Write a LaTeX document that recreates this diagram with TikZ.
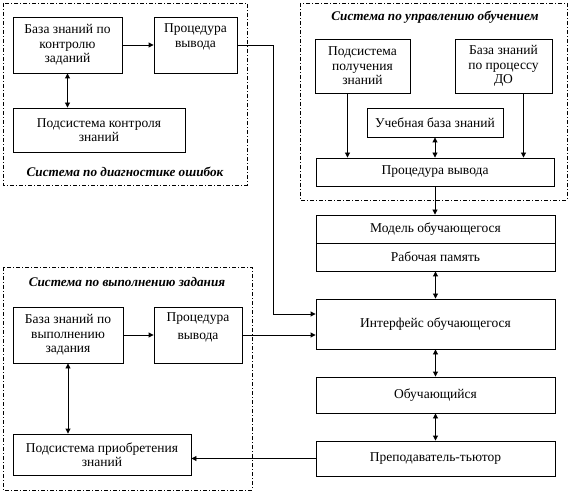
\documentclass[tikz,border=0pt]{standalone}
\usepackage{fontspec}
\setmainfont{Liberation Serif}
\usetikzlibrary{arrows.meta}
\begin{document}
\begin{tikzpicture}[x=1pt,y=-1pt,
  box/.style={draw,line width=0.9pt,inner sep=0pt,align=center,font=\fontsize{13.5}{14.5}\selectfont},
  grp/.style={draw,line width=0.9pt,dash pattern=on 4pt off 2pt on 1pt off 2pt},
  glabel/.style={font=\fontsize{13.2}{15}\selectfont\bfseries\itshape,inner sep=0pt},
  conn/.style={line width=0.9pt},
  arr/.style={conn,-{Triangle[length=5pt,width=5pt]}},
  darr/.style={conn,{Triangle[length=5pt,width=5pt]}-{Triangle[length=5pt,width=5pt]}}]
\useasboundingbox[fill=white] (0,0) rectangle (573,494);
% groups
\draw[grp] (3,3) rectangle (247,185);
\draw[grp] (300,3) rectangle (567,200);
\draw[grp] (3,267) rectangle (252,490);
\node[glabel] (l1) at (125,172) {Система по диагностике ошибок};
\node[glabel] (l2) at (435,17) {Система по управлению обучением};
\node[glabel] (l3) at (127,282) {Система по выполнению задания};
% group 1
\node[box,minimum width=109pt,minimum height=56pt] (kb1) at (67.5,45) {База знаний по\\контролю\\заданий};
\node[box,minimum width=83pt,minimum height=56pt] (proc1) at (195.5,45) {Процедура\\вывода\\\strut};
\node[box,minimum width=172pt,minimum height=44pt] (sub1) at (99,130) {Подсистема контроля\\знаний};
% group 2
\node[box,minimum width=95pt,minimum height=54pt] (sub2) at (362.5,66) {Подсистема\\получения\\знаний};
\node[box,minimum width=97pt,minimum height=54pt] (kb2) at (503.5,66) {База знаний\\по процессу\\ДО};
\node[box,minimum width=136pt,minimum height=29pt] (ukb) at (435,122.5) {Учебная база знаний};
\node[box,minimum width=238pt,minimum height=28pt] (proc2) at (435,172) {Процедура вывода};
% right column
\node[box,minimum width=239pt,minimum height=28pt] (model) at (435.5,229) {Модель обучающегося};
\node[box,minimum width=239pt,minimum height=28pt] (mem) at (435.5,257) {Рабочая память};
\node[box,minimum width=239pt,minimum height=50pt] (iface) at (435.5,324) {Интерфейс обучающегося};
\node[box,minimum width=239pt,minimum height=36pt] (learner) at (435.5,395) {Обучающийся};
\node[box,minimum width=239pt,minimum height=35pt] (tutor) at (435.5,458.5) {Преподаватель-тьютор};
% group 3
\node[box,minimum width=110pt,minimum height=56pt] (kb3) at (68,335) {База знаний по\\выполнению\\задания};
\node[box,minimum width=88pt,minimum height=56pt] (proc3) at (198,335) {Процедура\\[3.5pt]вывода\\[-2pt]\strut};
\node[box,minimum width=178pt,minimum height=41pt] (sub3) at (102,454.5) {Подсистема приобретения\\знаний};
% connectors
\coordinate (c1) at (273,314);
\draw[arr] (kb1) -- (proc1);
\draw[darr] (kb1.south) -- (kb1.south |- sub1.north);
\draw[arr] (proc1.east) -| (c1) -- (c1 -| iface.west);
\draw[arr] ([xshift=-15pt]sub2.south) -- ([xshift=-15pt]sub2.south |- proc2.north);
\draw[arr] ([xshift=20pt]kb2.south) -- ([xshift=20pt]kb2.south |- proc2.north);
\draw[darr] (ukb.south) -- (ukb.south |- proc2.north);
\draw[arr] (proc2.south) -- (proc2.south |- model.north);
\draw[darr] (mem.south) -- (iface.north);
\draw[darr] (iface.south) -- (learner.north);
\draw[darr] (learner.south) -- (tutor.north);
\draw[arr] (kb3) -- (proc3);
\draw[arr] (proc3.east) -- (proc3.east -| iface.west);
\draw[darr] (kb3.south) -- (kb3.south |- sub3.north);
\draw[arr] (tutor.west) -- (tutor.west -| sub3.east);
\end{tikzpicture}
\end{document}
